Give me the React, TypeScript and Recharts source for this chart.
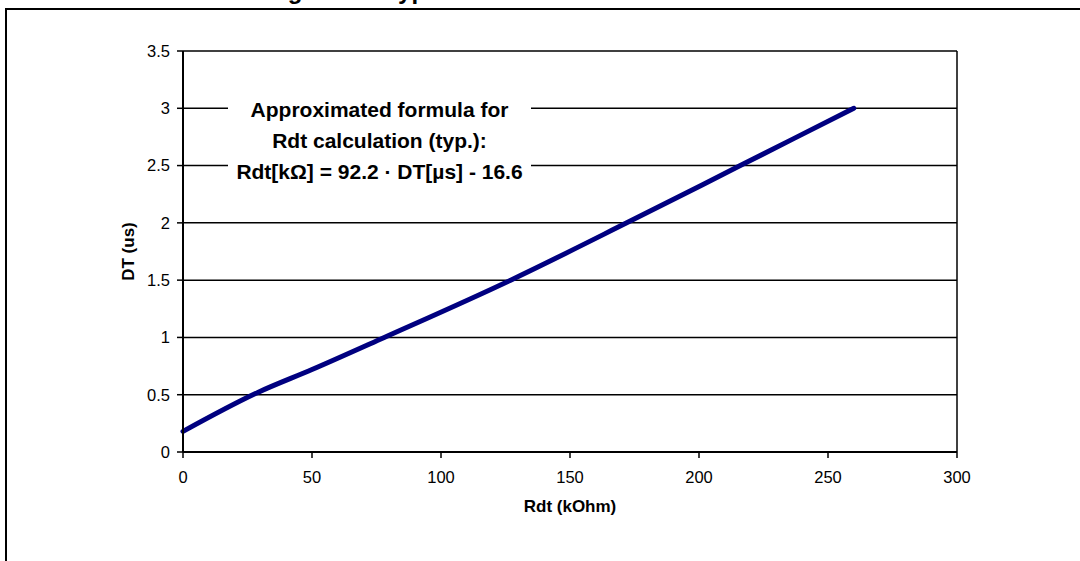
import React from "react";
import {
  LineChart,
  Line,
  XAxis,
  YAxis,
  CartesianGrid,
  ReferenceLine,
} from "recharts";

// Rdt (kOhm) vs DT (us)
const rdtValues = [0, 29, 50, 78, 127, 172, 216, 260];
const dtValues = [0.18, 0.52, 0.72, 1.0, 1.5, 2.0, 2.5, 3.0];

const xTicks = [0, 50, 100, 150, 200, 250, 300];
const yTicks = [0, 0.5, 1, 1.5, 2, 2.5, 3, 3.5];

const titleText = "Figure 11. Typical deadtime vs. DT resistor value";
const noteLines = [
  "Approximated formula for",
  "Rdt calculation (typ.):",
  "Rdt[kΩ] = 92.2 · DT[µs] - 16.6",
];

const FONT = "Arial, 'Liberation Sans', Helvetica, sans-serif";

const data = rdtValues.map((rdt, i) => ({ rdt, dt: dtValues[i] }));

export default function App() {
  return (
    <div
      style={{
        position: "absolute",
        left: 0,
        top: 0,
        width: 1080,
        height: 561,
        overflow: "hidden",
        background: "#fff",
        fontFamily: FONT,
      }}
    >
      {/* figure title, mostly above the top edge */}
      <svg
        width={1080}
        height={20}
        style={{ position: "absolute", left: 0, top: 0 }}
      >
        <text
          x={543}
          y={-1.5}
          textAnchor="middle"
          fontFamily={FONT}
          fontWeight="bold"
          fontSize={24}
          fill="#000"
        >
          {titleText}
        </text>
      </svg>

      {/* outer frame */}
      <div
        style={{
          position: "absolute",
          left: 5,
          top: 8,
          width: 1100,
          height: 600,
          borderTop: "2px solid #000",
          borderLeft: "2px solid #000",
        }}
      />

      <div style={{ position: "absolute", left: 0, top: 0 }}>
        <LineChart
          width={1080}
          height={561}
          data={data}
          margin={{ top: 51, right: 123, left: 123, bottom: 79 }}
        >
          <CartesianGrid
            horizontal
            vertical={false}
            stroke="#000"
            strokeWidth={1.5}
          />
          <XAxis
            dataKey="rdt"
            type="number"
            domain={[0, 300]}
            ticks={xTicks}
            height={30}
            axisLine={{ stroke: "#000", strokeWidth: 2 }}
            tickLine={{ stroke: "#000", strokeWidth: 1.5 }}
            tickSize={6}
            tickMargin={13}
            tick={{ fill: "#000", fontSize: 16.5, fontFamily: FONT }}
            label={(props: any) => {
              const vb = props.viewBox;
              return (
                <text
                  x={vb.x + vb.width / 2}
                  y={512}
                  textAnchor="middle"
                  fontFamily={FONT}
                  fontWeight="bold"
                  fontSize={17}
                  fill="#000"
                >
                  Rdt (kOhm)
                </text>
              );
            }}
          />
          <YAxis
            type="number"
            domain={[0, 3.5]}
            ticks={yTicks}
            width={60}
            axisLine={{ stroke: "#000", strokeWidth: 2 }}
            tickLine={{ stroke: "#000", strokeWidth: 1.5 }}
            tickSize={6}
            tickMargin={7}
            tick={{ fill: "#000", fontSize: 16.5, fontFamily: FONT }}
            label={(props: any) => {
              const vb = props.viewBox;
              const cx = 128;
              const cy = vb.y + vb.height / 2;
              return (
                <text
                  x={cx}
                  y={cy}
                  transform={`rotate(-90 ${cx} ${cy})`}
                  textAnchor="middle"
                  dominantBaseline="central"
                  fontFamily={FONT}
                  fontWeight="bold"
                  fontSize={17}
                  fill="#000"
                >
                  DT (us)
                </text>
              );
            }}
          />
          <ReferenceLine x={300} stroke="#000" strokeWidth={1.5} />
          <Line
            type="monotone"
            dataKey="dt"
            stroke="#000080"
            strokeWidth={5}
            strokeLinecap="round"
            dot={false}
            activeDot={false}
            isAnimationActive={false}
          />
        </LineChart>
      </div>

      {/* formula annotation */}
      <div
        style={{
          position: "absolute",
          left: 228,
          top: 94,
          width: 303,
          background: "#fff",
          textAlign: "center",
          fontFamily: FONT,
          fontWeight: "bold",
          fontSize: 21,
          lineHeight: "31px",
          color: "#000",
        }}
      >
        {noteLines.map((t) => (
          <div key={t}>{t}</div>
        ))}
      </div>
    </div>
  );
}
